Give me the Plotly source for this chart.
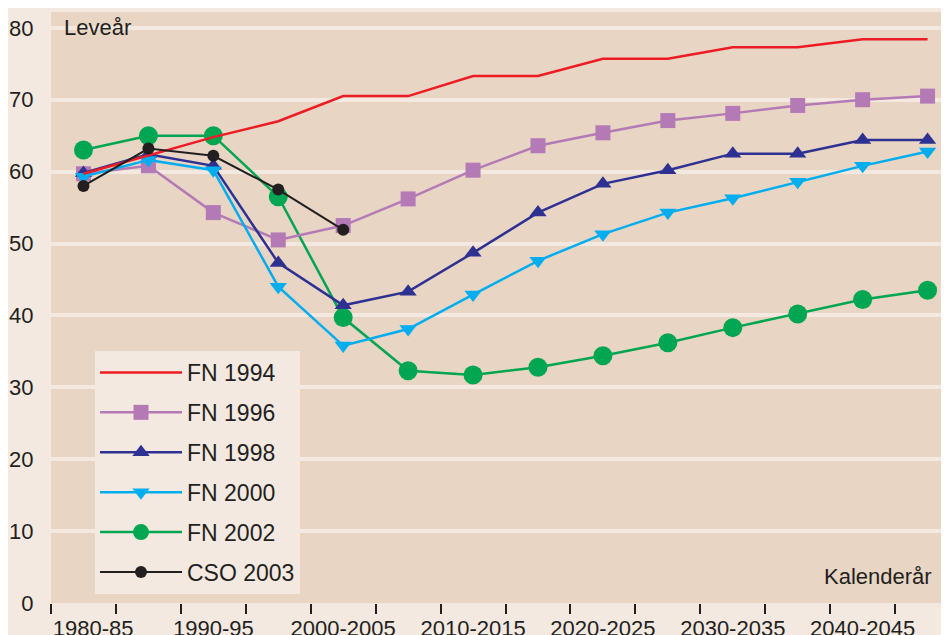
import plotly.graph_objects as go

periods = ["1980-85", "1985-90", "1990-95", "1995-2000", "2000-2005", "2005-2010",
           "2010-2015", "2015-2020", "2020-2025", "2025-2030", "2030-2035",
           "2035-2040", "2040-2045", "2045-2050"]
fn1994 = [59.7, 62.3, 64.8, 67.0, 70.5, 70.5, 73.3, 73.3, 75.7, 75.7, 77.3, 77.3, 78.4, 78.4]
fn1996 = [59.7, 60.8, 54.3, 50.5, 52.5, 56.2, 60.2, 63.6, 65.4, 67.1, 68.1, 69.2, 70.0, 70.5]
fn1998 = [59.8, 62.4, 60.8, 47.3, 41.4, 43.3, 48.7, 54.3, 58.3, 60.2, 62.5, 62.5, 64.4, 64.4]
fn2000 = [59.3, 61.6, 60.2, 44.0, 35.8, 38.1, 42.9, 47.6, 51.3, 54.3, 56.3, 58.6, 60.8, 62.8]
fn2002 = [63.0, 65.0, 65.0, 56.5, 39.7, 32.3, 31.7, 32.8, 34.4, 36.2, 38.3, 40.2, 42.2, 43.5]
cso2003 = [58.0, 63.2, 62.2, 57.5, 51.9]

tick_labels = ["1980-85", "1990-95", "2000-2005", "2010-2015", "2020-2025",
               "2030-2035", "2040-2045"]

idx = list(range(len(periods)))
FONT = "Liberation Sans, Arial, sans-serif"
TXT = "#231f20"
PAPER = "#f3e9e1"
PLOT = "#e8d5c4"

fig = go.Figure()

def add(name, y, color, width, symbol=None, size=0, rank=0):
    mode = "lines+markers" if symbol else "lines"
    fig.add_trace(go.Scatter(
        x=idx[:len(y)], y=y, name=name, mode=mode,
        line=dict(color=color, width=width),
        marker=dict(symbol=symbol or "circle", size=size, color=color, line=dict(width=0)),
        legendrank=rank, legendgroup=name,
    ))

add("FN 2002", fn2002, "#00a651", 2.5, "circle", 19, 5)
add("FN 1996", fn1996, "#b47ab6", 2.5, "square", 15, 2)
add("FN 1998", fn1998, "#2e3192", 2.5, "triangle-up", 15, 3)
add("FN 2000", fn2000, "#00aeef", 2.5, "triangle-down", 15, 4)
add("FN 1994", fn1994, "#ed1c24", 2.5, None, 0, 1)
add("CSO 2003", cso2003, "#231f20", 2.0, "circle", 12, 6)

tickvals = [0.15] + [i for i in range(2, 14, 2)]

# page body has an 8px default margin; the figure is sized to fill the rest
fig.update_layout(
    width=941, height=627,
    template="none",
    paper_bgcolor=PAPER, plot_bgcolor=PLOT,
    margin=dict(l=43, r=0, t=4, b=32, autoexpand=False),
    font=dict(family=FONT, size=22, color=TXT),
    showlegend=True,
    legend=dict(
        x=0.049, y=0.4264, xanchor="left", yanchor="top",
        bgcolor=PAPER, borderwidth=0,
        font=dict(family=FONT, size=23, color=TXT),
        traceorder="grouped", tracegroupgap=7,
        itemwidth=82,
    ),
    xaxis=dict(
        range=[-0.5, 13.33], tickmode="array", tickvals=tickvals, ticktext=tick_labels,
        showgrid=False, zeroline=False, showline=False, automargin=False,
        ticks="outside", ticklen=6, tickcolor="rgba(0,0,0,0)",
        tickfont=dict(family=FONT, size=22, color=TXT),
        minor=dict(tickmode="linear", tick0=-0.5, dtick=1, ticks="outside",
                   ticklen=10, tickwidth=1.5, tickcolor=TXT, showgrid=False),
    ),
    yaxis=dict(
        range=[0, 82.2], tickmode="array", tickvals=list(range(0, 81, 10)),
        showgrid=True, gridcolor=PAPER, gridwidth=4, zeroline=False, showline=False,
        automargin=False, ticks="outside", ticklen=12, tickcolor="rgba(0,0,0,0)",
        tickfont=dict(family=FONT, size=22, color=TXT),
    ),
    annotations=[
        dict(text="Leveår", xref="paper", yref="paper", x=0.012, y=0.973,
             xanchor="left", yanchor="middle", showarrow=False,
             font=dict(family=FONT, size=22, color=TXT)),
        dict(text="Kalenderår", xref="paper", yref="paper", x=0.983, y=0.044,
             xanchor="right", yanchor="middle", showarrow=False,
             font=dict(family=FONT, size=22, color=TXT)),
    ],
)

fig.write_html("out.html")
